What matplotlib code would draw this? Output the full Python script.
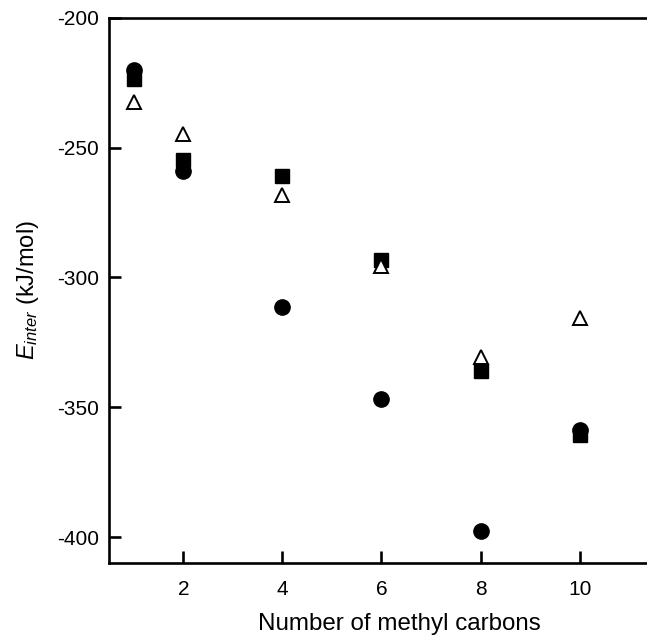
import matplotlib
matplotlib.use("Agg")
import matplotlib.pyplot as plt

# interaction energy vs. chain length, three models
carbons = [1, 2, 4, 6, 8, 10]
e_circle = [-220.1, -258.8, -311.4, -346.7, -397.6, -358.6]
e_square = [-223.6, -254.6, -260.9, -293.4, -336.1, -360.5]
e_triangle = [-232.4, -244.6, -268.4, -295.7, -330.6, -315.6]

xticks = [2, 4, 6, 8, 10]
yticks = [-400, -350, -300, -250, -200]

plt.rcParams.update({
    'font.family': 'Liberation Sans',
    'mathtext.fontset': 'custom',
    'mathtext.rm': 'Liberation Sans',
    'mathtext.it': 'Liberation Sans:italic',
    'axes.unicode_minus': False,
})

fig = plt.figure(figsize=(6.47, 6.36), dpi=100)
ax = fig.add_axes([0.1685, 0.1148, 0.8315, 0.857])

ax.plot(carbons, e_square, 's', color='black', markersize=10, linestyle='none')
ax.plot(carbons, e_circle, 'o', color='black', markersize=11, linestyle='none')
ax.plot(carbons, e_triangle, '^', markerfacecolor='white', markeredgecolor='black',
        markeredgewidth=1.4, markersize=10, linestyle='none')

ax.set_xlim(0.5, 11.36)
ax.set_ylim(-410, -200)
ax.set_xticks(xticks)
ax.set_yticks(yticks)

for side in ['left', 'bottom', 'top']:
    ax.spines[side].set_linewidth(1.9)
ax.spines['right'].set_visible(False)

ax.tick_params(direction='in', length=8.5, width=1.9, labelsize=15)
ax.tick_params(axis='x', pad=12)
ax.tick_params(axis='y', pad=7)

# the x label sits right of the axes centre (frame runs past the edge)
ax.set_xlabel('Number of methyl carbons', fontsize=17.4, labelpad=10, x=0.539)
ax.set_ylabel(r'$E_{inter}$ (kJ/mol)', fontsize=17, labelpad=12)

fig.savefig('out.png', dpi=100)
